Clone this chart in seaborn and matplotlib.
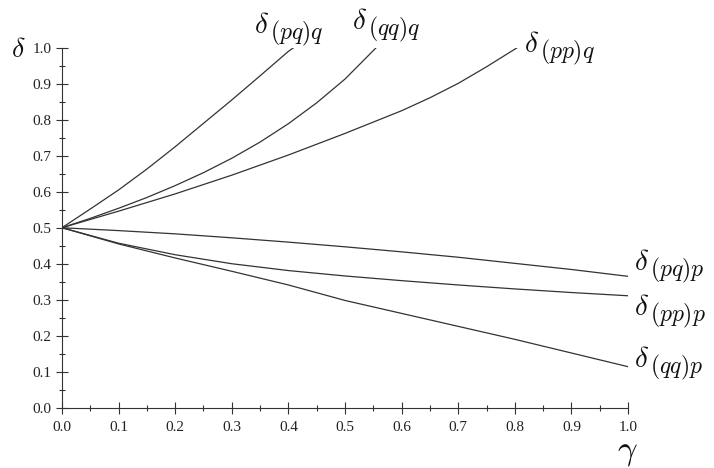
# Six delta curves against gamma
import seaborn as sns
import matplotlib.pyplot as plt
from matplotlib.ticker import MultipleLocator

sns.set_style('ticks')
plt.rcParams['font.family'] = ['Liberation Serif', 'DejaVu Serif']
plt.rcParams['mathtext.fontset'] = 'cm'

# values
gamma_pqq = [0, 0.05, 0.1, 0.15, 0.2, 0.25, 0.3, 0.35, 0.4, 0.409]
delta_pqq = [0.5, 0.552, 0.605, 0.663, 0.725, 0.790, 0.855, 0.922, 0.99, 1.0]

gamma_qqq = [0, 0.05, 0.1, 0.15, 0.2, 0.25, 0.3, 0.35, 0.4, 0.45, 0.5, 0.555]
delta_qqq = [0.5, 0.526, 0.554, 0.584, 0.617, 0.653, 0.693, 0.738, 0.789, 0.847, 0.913, 1.0]

gamma_ppq = [0, 0.1, 0.2, 0.3, 0.4, 0.5, 0.6, 0.65, 0.7, 0.75, 0.804]
delta_ppq = [0.5, 0.546, 0.594, 0.646, 0.702, 0.762, 0.825, 0.861, 0.901, 0.947, 1.0]

gamma_p = [0, 0.1, 0.2, 0.3, 0.4, 0.5, 0.6, 0.7, 0.8, 0.9, 1.0]
delta_pqp = [0.5, 0.492, 0.483, 0.472, 0.460, 0.447, 0.433, 0.418, 0.401, 0.384, 0.365]
delta_ppp = [0.5, 0.457, 0.425, 0.400, 0.381, 0.366, 0.353, 0.341, 0.330, 0.320, 0.311]
delta_qqp = [0.5, 0.455, 0.416, 0.379, 0.341, 0.298, 0.262, 0.226, 0.190, 0.152, 0.114]

ticks = [0.0, 0.1, 0.2, 0.3, 0.4, 0.5, 0.6, 0.7, 0.8, 0.9, 1.0]
tick_labels = ['0.0', '0.1', '0.2', '0.3', '0.4', '0.5', '0.6', '0.7', '0.8', '0.9', '1.0']

# curve label subscripts
subs = ['(pq)q', '(qq)q', '(pp)q', '(pq)p', '(pp)p', '(qq)p']

fig = plt.figure(figsize=(7.14, 4.68), dpi=100)
ax = fig.add_axes([0.0868, 0.1288, 0.7928, 0.7692])

line_col = '#333333'
series = [(gamma_pqq, delta_pqq), (gamma_qqq, delta_qqq), (gamma_ppq, delta_ppq),
          (gamma_p, delta_pqp), (gamma_p, delta_ppp), (gamma_p, delta_qqp)]
for gx, gy in series:
    sns.lineplot(x=gx, y=gy, ax=ax, color=line_col, linewidth=0.9)

ax.set_xlim(0, 1)
ax.set_ylim(0, 1)
ax.set_xticks(ticks)
ax.set_xticklabels(tick_labels)
ax.set_yticks(ticks)
ax.set_yticklabels(tick_labels)
ax.xaxis.set_minor_locator(MultipleLocator(0.05))
ax.yaxis.set_minor_locator(MultipleLocator(0.05))
ax.tick_params(which='major', direction='inout', length=9, width=0.8,
               color='#333333', labelsize=11, labelcolor='#222222')
ax.tick_params(axis='x', which='major', pad=5)
ax.tick_params(axis='y', which='major', pad=3)
ax.tick_params(which='minor', direction='inout', length=5, width=0.8, color='#333333')
for s in ['left', 'bottom']:
    ax.spines[s].set_linewidth(0.8)
    ax.spines[s].set_color('#333333')
sns.despine(ax=ax)


def px(x, y):
    # figure pixel position -> data coords
    return (x - 62) / 565.7, (407.7 - y) / 360.0


# left edge / baseline of the delta, in figure pixels
spots = [(254, 33), (352, 29), (524, 52), (634, 270), (634, 315), (634, 367)]
for sub, (lx, ly) in zip(subs, spots):
    dx, dy = px(lx, ly)
    ax.text(dx, dy, r'$\delta$', fontsize=21, ha='left', va='baseline',
            color='#111111', clip_on=False)
    sx, sy = px(lx + 16, ly + 6)
    ax.text(sx, sy, '$' + sub + '$', fontsize=17, ha='left', va='baseline',
            color='#111111', clip_on=False)

# axis names
dx, dy = px(11, 57)
ax.text(dx, dy, r'$\delta$', fontsize=20, ha='left', va='baseline',
        color='#111111', clip_on=False)
dx, dy = px(617, 458)
ax.text(dx, dy, r'$\gamma$', fontsize=25, ha='left', va='baseline',
        color='#111111', clip_on=False)

fig.savefig('out.png', dpi=100)
